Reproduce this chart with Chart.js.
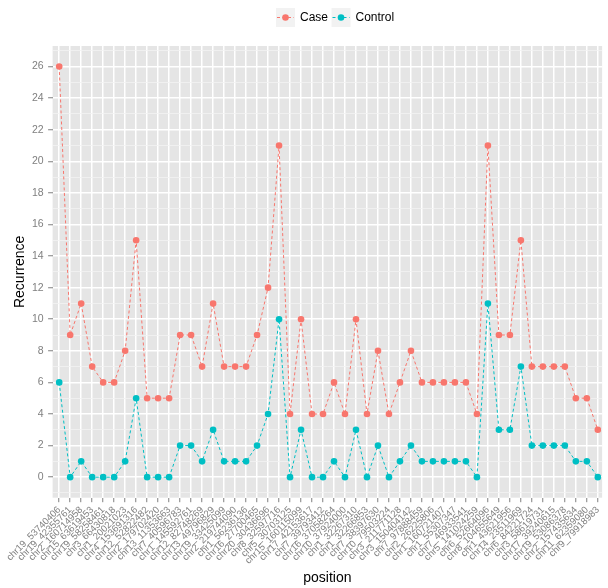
<!DOCTYPE html>
<html>
<head>
<meta charset="utf-8">
<script src="https://cdn.jsdelivr.net/npm/chart.js@4/dist/chart.umd.min.js"></script>
<style>
  html, body { margin: 0; padding: 0; background: #ffffff; overflow: hidden; }
  #wrap { width: 608px; height: 588px; }
</style>
</head>
<body>
<div id="wrap"><canvas id="chart" width="608" height="588"></canvas></div>
<script>
// Genomic positions along the x axis
const positions = [
  'chr19_53740406', 'chr19_42355761', 'chr2_160714958', 'chr15_63619453', 'chr19_58258461',
  'chr3_66430818', 'chr1_20021023', 'chr4_153691316', 'chr12_52822482', 'chr2_179702420',
  'chr13_11353663', 'chr7_40596783', 'chr1_145592761', 'chr12_82748269', 'chr13_49796829',
  'chr19_33425099', 'chr2_219744090', 'chr1_56236136', 'chr16_27700465', 'chr20_30436696',
  'chr8_32597716', 'chr5_30703125', 'chr15_160115099', 'chr17_42153617', 'chr7_39793412',
  'chr16_37058264', 'chr10_37924000', 'chr1_32267310', 'chr1_32266853', 'chr7_38397630',
  'chr10_79503224', 'chr3_211771128', 'chr3_150404142', 'chr7_97888459', 'chr2_26225806',
  'chr1_160721407', 'chr1_55307347', 'chr7_46933541', 'chr5_141024259', 'chr6_52664096',
  'chr8_104655649', 'chr1_43621956', 'chr14_23511969', 'chr6_84221724', 'chr3_58619731',
  'chr17_39240615', 'chr19_53086378', 'chr2_157435634', 'chr11_62359080', 'chr9_79918983'
];

// Recurrence counts per position
const caseCounts = [
  26, 9, 11, 7, 6, 6, 8, 15, 5, 5,
  5, 9, 9, 7, 11, 7, 7, 7, 9, 12,
  21, 4, 10, 4, 4, 6, 4, 10, 4, 8,
  4, 6, 8, 6, 6, 6, 6, 6, 4, 21,
  9, 9, 15, 7, 7, 7, 7, 5, 5, 3
];
const controlCounts = [
  6, 0, 1, 0, 0, 0, 1, 5, 0, 0,
  0, 2, 2, 1, 3, 1, 1, 1, 2, 4,
  10, 0, 3, 0, 0, 1, 0, 3, 0, 2,
  0, 1, 2, 1, 1, 1, 1, 1, 0, 11,
  3, 3, 7, 2, 2, 2, 2, 1, 1, 0
];

const seriesNames = ['Case', 'Control'];
const seriesColors = ['#F8766D', '#00BFC4'];

// y grid: labelled majors at even values, minors at odd values
const yGridValues = [];
for (let v = -1; v <= 27; v++) yGridValues.push(v);

const FONT = '"Liberation Sans", Arial, Helvetica, sans-serif';
Chart.defaults.font.family = FONT;

const isMajor = v => v % 2 === 0;

// grey panel behind the plot
const panelBackground = {
  id: 'panelBackground',
  beforeDraw(chart) {
    const { ctx, chartArea: a } = chart;
    ctx.save();
    ctx.fillStyle = '#ffffff';
    ctx.fillRect(0, 0, chart.width, chart.height);
    ctx.fillStyle = '#E5E5E5';
    ctx.fillRect(a.left, a.top, a.right - a.left, a.bottom - a.top);
    ctx.restore();
  }
};

// legend with grey key boxes holding a dashed line and a dot
const keyLegend = {
  id: 'keyLegend',
  afterDraw(chart) {
    const ctx = chart.ctx;
    const box = 19, top = 8, startX = 276;
    ctx.save();
    ctx.font = '12px ' + FONT;
    ctx.textBaseline = 'middle';
    ctx.textAlign = 'left';
    let x = startX;
    chart.data.datasets.forEach(ds => {
      const cy = top + box / 2;
      ctx.fillStyle = '#F2F2F2';
      ctx.fillRect(x, top, box, box);
      ctx.strokeStyle = ds.borderColor;
      ctx.lineWidth = 1;
      ctx.setLineDash([3, 2.5]);
      ctx.beginPath();
      ctx.moveTo(x + 1, cy);
      ctx.lineTo(x + box - 1, cy);
      ctx.stroke();
      ctx.setLineDash([]);
      ctx.fillStyle = ds.borderColor;
      ctx.beginPath();
      ctx.arc(x + box / 2, cy, 3.3, 0, Math.PI * 2);
      ctx.fill();
      ctx.fillStyle = '#000000';
      const tx = x + box + 5;
      ctx.fillText(ds.label, tx, cy + 0.5);
      x = tx + ctx.measureText(ds.label).width + 3.5;
    });
    ctx.restore();
  }
};

function makeSeries(name, values, color) {
  return {
    label: name,
    data: values.map((v, i) => ({ x: i, y: v })),
    borderColor: color,
    backgroundColor: color,
    borderWidth: 1,
    borderDash: [3, 2.5],
    tension: 0,
    fill: false,
    pointRadius: 3.3,
    pointHoverRadius: 3.3,
    pointBorderWidth: 0,
    pointBackgroundColor: color
  };
}

new Chart(document.getElementById('chart'), {
  type: 'line',
  data: {
    datasets: [
      makeSeries(seriesNames[0], caseCounts, seriesColors[0]),
      makeSeries(seriesNames[1], controlCounts, seriesColors[1])
    ]
  },
  plugins: [panelBackground, keyLegend],
  options: {
    responsive: false,
    animation: false,
    events: [],
    layout: { padding: { top: 46, right: 0, bottom: 0, left: 0 } },
    plugins: {
      legend: { display: false },
      tooltip: { enabled: false }
    },
    scales: {
      x: {
        type: 'linear',
        min: -0.6,
        max: 49.39,
        afterBuildTicks: s => { s.ticks = positions.map((_, i) => ({ value: i })); },
        afterFit: s => { s.height = 90.3; },
        border: { display: false },
        grid: {
          color: '#FFFFFF',
          lineWidth: 1.5,
          tickColor: '#7F7F7F',
          tickLength: 4.5,
          tickWidth: 1
        },
        ticks: {
          autoSkip: false,
          minRotation: 45,
          maxRotation: 45,
          padding: 2,
          color: '#7F7F7F',
          font: { size: 9.6 },
          callback: v => positions[v] !== undefined ? positions[v] : ''
        },
        title: {
          display: true,
          text: 'position',
          color: '#000000',
          font: { size: 14 },
          padding: { top: 0, bottom: 1.5 }
        }
      },
      y: {
        type: 'linear',
        min: -1.3,
        max: 27.3,
        afterBuildTicks: s => { s.ticks = yGridValues.map(v => ({ value: v })); },
        afterFit: s => { s.width = 52.6; },
        border: { display: false },
        grid: {
          color: ctx => isMajor(ctx.tick.value) ? '#FFFFFF' : '#F2F2F2',
          lineWidth: ctx => isMajor(ctx.tick.value) ? 1.5 : 0.8,
          tickColor: ctx => isMajor(ctx.tick.value) && ctx.tick.value >= 0 ? '#7F7F7F' : 'rgba(0,0,0,0)',
          tickLength: 4.5,
          tickWidth: 1
        },
        ticks: {
          autoSkip: false,
          padding: 4.5,
          color: '#7F7F7F',
          font: { size: 10.5 },
          callback: v => (isMajor(v) && v >= 0) ? String(v) : ''
        },
        title: {
          display: true,
          text: 'Recurrence',
          color: '#000000',
          font: { size: 14 },
          padding: { top: 12, bottom: 0 }
        }
      }
    }
  }
});
</script>
</body>
</html>
